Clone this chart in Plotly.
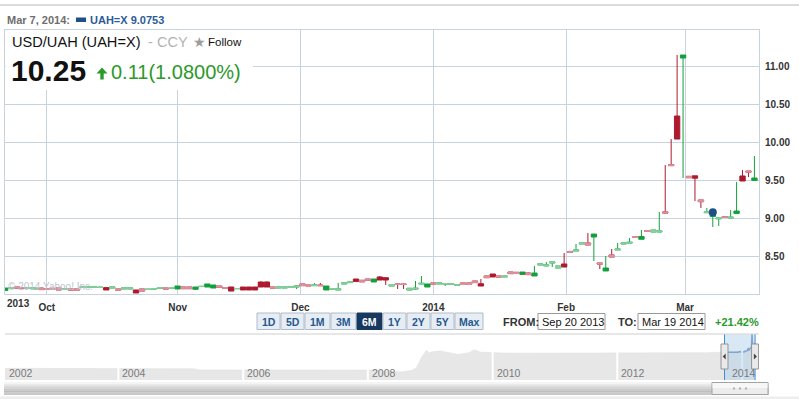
import numpy as np
import pandas as pd
import plotly.graph_objects as go

W, H = 799, 399

# ---------------- data ----------------
# FX trading days shown in the 6M window (no quote on 2013-10-14)
dates = [d.strftime('%Y-%m-%d') for d in pd.bdate_range('2013-09-20', '2014-03-18')
         if d.strftime('%Y-%m-%d') != '2013-10-14']

open_ = [8.047, 8.072, 8.092, 8.085, 8.079, 8.066, 8.079, 8.070, 8.075, 8.079,
         8.062, 8.066, 8.066, 8.090, 8.090, 8.088, 8.086, 8.084, 8.079, 8.066,
         8.066, 8.066, 8.053, 8.066, 8.060, 8.066, 8.077, 8.079, 8.077, 8.066,
         8.092, 8.092, 8.062, 8.098, 8.092, 8.079, 8.105, 8.082, 8.092, 8.070,
         8.092, 8.092, 8.092, 8.158, 8.158, 8.092, 8.079, 8.079, 8.090, 8.092,
         8.132, 8.118, 8.110, 8.118, 8.053, 8.062, 8.053, 8.132, 8.150, 8.197,
         8.180, 8.197, 8.158, 8.224, 8.215, 8.105, 8.132, 8.132, 8.053, 8.066,
         8.132, 8.092, 8.145, 8.132, 8.130, 8.130, 8.116, 8.145, 8.145, 8.171,
         8.135, 8.237, 8.263, 8.237, 8.225, 8.289, 8.285, 8.258, 8.276, 8.237,
         8.382, 8.370, 8.408, 8.342, 8.395, 8.560, 8.566, 8.658, 8.671, 8.750,
         8.408, 8.303, 8.513, 8.580, 8.658, 8.670, 8.755, 8.720, 8.834, 8.816,
         8.816, 9.080, 9.700, 10.342, 11.105, 9.548, 9.555, 9.237, 9.070, 9.020,
         8.990, 9.017, 9.000, 9.060, 9.553, 9.618, 9.495]
high = [8.079, 8.079, 8.092, 8.085, 8.085, 8.079, 8.079, 8.070, 8.075, 8.079,
        8.066, 8.066, 8.066, 8.092, 8.092, 8.090, 8.088, 8.084, 8.092, 8.066,
        8.079, 8.079, 8.053, 8.066, 8.062, 8.070, 8.081, 8.079, 8.086, 8.105,
        8.092, 8.092, 8.092, 8.100, 8.132, 8.118, 8.105, 8.082, 8.092, 8.072,
        8.092, 8.092, 8.092, 8.165, 8.165, 8.092, 8.092, 8.092, 8.092, 8.118,
        8.132, 8.118, 8.145, 8.145, 8.105, 8.070, 8.145, 8.150, 8.171, 8.197,
        8.180, 8.197, 8.197, 8.237, 8.215, 8.125, 8.135, 8.135, 8.079, 8.171,
        8.237, 8.132, 8.145, 8.145, 8.145, 8.134, 8.120, 8.145, 8.145, 8.171,
        8.197, 8.237, 8.263, 8.237, 8.235, 8.289, 8.285, 8.289, 8.282, 8.368,
        8.395, 8.421, 8.421, 8.368, 8.539, 8.566, 8.658, 8.671, 8.803, 8.789,
        8.408, 8.500, 8.592, 8.671, 8.671, 8.737, 8.755, 8.842, 8.834, 8.842,
        9.079, 9.697, 10.039, 11.145, 11.145, 9.553, 9.555, 9.237, 9.132, 9.080,
        9.000, 9.017, 9.105, 9.474, 9.632, 9.618, 9.816]
low = [8.047, 8.072, 8.079, 8.079, 8.079, 8.066, 8.058, 8.062, 8.066, 8.053,
       8.062, 8.053, 8.050, 8.090, 8.090, 8.088, 8.086, 8.053, 8.079, 8.053,
       8.066, 8.066, 8.013, 8.039, 8.060, 8.066, 8.077, 8.066, 8.075, 8.066,
       8.070, 8.070, 8.053, 8.098, 8.092, 8.079, 8.092, 8.077, 8.039, 8.070,
       8.053, 8.053, 8.053, 8.092, 8.092, 8.079, 8.079, 8.079, 8.090, 8.066,
       8.110, 8.108, 8.105, 8.105, 8.053, 8.062, 8.053, 8.132, 8.145, 8.165,
       8.160, 8.184, 8.158, 8.184, 8.118, 8.105, 8.066, 8.066, 8.053, 8.053,
       8.132, 8.092, 8.132, 8.132, 8.105, 8.130, 8.116, 8.125, 8.125, 8.150,
       8.105, 8.215, 8.224, 8.224, 8.225, 8.268, 8.270, 8.258, 8.250, 8.237,
       8.382, 8.368, 8.355, 8.342, 8.355, 8.539, 8.566, 8.658, 8.645, 8.434,
       8.329, 8.303, 8.487, 8.579, 8.658, 8.670, 8.745, 8.720, 8.826, 8.816,
       8.816, 9.066, 9.684, 10.039, 9.526, 9.530, 9.224, 9.132, 9.066, 8.882,
       8.895, 9.009, 9.000, 9.060, 9.487, 9.539, 9.495]
close = [8.079, 8.079, 8.079, 8.079, 8.085, 8.079, 8.058, 8.062, 8.066, 8.053,
         8.066, 8.053, 8.050, 8.092, 8.092, 8.090, 8.088, 8.053, 8.092, 8.053,
         8.079, 8.079, 8.013, 8.039, 8.062, 8.070, 8.081, 8.066, 8.083, 8.105,
         8.070, 8.070, 8.092, 8.100, 8.132, 8.118, 8.092, 8.077, 8.039, 8.072,
         8.053, 8.053, 8.053, 8.092, 8.092, 8.079, 8.092, 8.092, 8.092, 8.105,
         8.110, 8.108, 8.118, 8.110, 8.105, 8.070, 8.066, 8.145, 8.158, 8.165,
         8.160, 8.184, 8.197, 8.184, 8.184, 8.125, 8.125, 8.125, 8.075, 8.075,
         8.140, 8.132, 8.132, 8.145, 8.138, 8.134, 8.120, 8.125, 8.125, 8.150,
         8.105, 8.215, 8.224, 8.224, 8.235, 8.268, 8.270, 8.289, 8.255, 8.276,
         8.395, 8.380, 8.421, 8.368, 8.355, 8.550, 8.579, 8.671, 8.645, 8.789,
         8.395, 8.342, 8.487, 8.590, 8.671, 8.680, 8.745, 8.757, 8.826, 8.842,
         8.830, 9.066, 9.690, 10.039, 11.145, 9.530, 9.524, 9.215, 9.080, 9.0753,
         9.000, 9.009, 9.010, 9.092, 9.487, 9.605, 9.526]

marker_date = '2014-03-07'
marker_value = 9.0753

y_ticks = [8.50, 9.00, 9.50, 10.00, 10.50, 11.00]
month_starts = ['2013-10-01', '2013-11-01', '2013-12-01', '2014-01-01', '2014-02-01', '2014-03-01']
month_labels = ['Oct', 'Nov', 'Dec', '2014', 'Feb', 'Mar']

# long-term history for the navigator strip (before the 6M window)
nav_dates = ['2002-03-08', '2002-09-01', '2003-03-01', '2003-09-01', '2004-01-15', '2004-04-01',
             '2004-07-01', '2004-10-01', '2005-01-01', '2005-03-15', '2005-04-20', '2005-08-01',
             '2006-03-01', '2006-09-01', '2007-03-01', '2007-09-01', '2008-02-01', '2008-05-01',
             '2008-07-15', '2008-09-15', '2008-10-10', '2008-10-25', '2008-11-10', '2008-11-25',
             '2008-12-10', '2008-12-25', '2009-01-20', '2009-03-01', '2009-04-15', '2009-06-15',
             '2009-08-15', '2009-09-15', '2009-10-20', '2009-12-15', '2010-03-01', '2010-07-01',
             '2011-01-01', '2011-07-01', '2012-01-01', '2012-07-01', '2013-01-01', '2013-06-01',
             '2013-09-13']
nav_vals = [5.33, 5.33, 5.33, 5.33, 5.32, 5.31, 5.30, 5.28, 5.30, 5.25, 5.05, 5.05,
            5.05, 5.05, 5.05, 5.05, 5.02, 4.86, 4.70, 4.98, 5.40, 6.20, 7.20, 7.80,
            8.40, 8.00, 8.20, 8.30, 8.00, 7.70, 8.00, 8.50, 8.10, 8.00, 7.95, 7.92,
            7.96, 7.97, 7.99, 7.99, 7.99, 8.00, 8.10]
nav_years = [2004, 2006, 2008, 2010, 2012, 2014]

# ---------------- helpers ----------------
def px(x):
    return x / W

def py(y):
    return 1 - y / H

RED, PINK = '#ad1a2f', '#dd909d'
GREEN, LGREEN = '#13a03d', '#86cf9e'
GRID = '#c9d3dc'
FONT = 'Liberation Sans'

# category position of calendar month starts (interpolated over weekends)
dts = pd.to_datetime(dates)
def cal_pos(day):
    day = pd.Timestamp(day)
    k = int(np.searchsorted(dts.values, day.to_datetime64()))
    if dts[k] == day:
        return float(k)
    p, n = dts[k - 1], dts[k]
    return (k - 1) + (day - p) / (n - p)

tickpos = [cal_pos(m) for m in month_starts]

fig = go.Figure()

# full candles (dark bodies & wicks)
fig.add_trace(go.Candlestick(
    x=dates, open=open_, high=high, low=low, close=close,
    increasing=dict(line=dict(color=GREEN, width=1), fillcolor=GREEN),
    decreasing=dict(line=dict(color=RED, width=1), fillcolor=RED),
    whiskerwidth=0, showlegend=False, hoverinfo='x+y', xaxis='x', yaxis='y'))

# light bodies for small-range sessions
light = [i for i in range(len(dates)) if abs(close[i] - open_[i]) < 0.028]
fig.add_trace(go.Candlestick(
    x=[dates[i] for i in light],
    open=[open_[i] for i in light], close=[close[i] for i in light],
    high=[max(open_[i], close[i]) for i in light],
    low=[min(open_[i], close[i]) for i in light],
    increasing=dict(line=dict(color=LGREEN, width=1), fillcolor=LGREEN),
    decreasing=dict(line=dict(color=PINK, width=1), fillcolor=PINK),
    whiskerwidth=0, showlegend=False, hoverinfo='skip', xaxis='x', yaxis='y'))

fig.add_trace(go.Scatter(x=[marker_date], y=[marker_value], mode='markers',
                         marker=dict(color='#1d4f86', size=8), showlegend=False,
                         xaxis='x', yaxis='y'))

# navigator
fig.add_trace(go.Scatter(x=nav_dates + dates, y=nav_vals + close, mode='lines',
                         line=dict(color='#dedede', width=0.5), fill='tozeroy',
                         fillcolor='#e7e7e7', showlegend=False, hoverinfo='skip',
                         xaxis='x2', yaxis='y2'))
fig.add_trace(go.Scatter(x=dates, y=close, mode='lines', line=dict(color='#5d88b6', width=1.5),
                         showlegend=False, hoverinfo='skip', xaxis='x2', yaxis='y2'))

shapes = []
ann = []

# outer top rule
shapes.append(dict(type='line', xref='paper', yref='paper', x0=0, x1=1, y0=py(5), y1=py(5),
                   line=dict(color='#cfcfcf', width=1.5)))
# title box covering the grid
shapes.append(dict(type='rect', xref='paper', yref='paper', x0=px(5.6), x1=px(253), y0=py(90), y1=py(30.6),
                   fillcolor='white', line=dict(width=0), layer='above'))
# up arrow
ax = [96.5, 102, 107.5, 103.7, 103.7, 100.3, 100.3]
ay = [73.5, 67.5, 73.5, 73.5, 79.5, 79.5, 73.5]
path = 'M ' + ' L '.join(f'{px(a):.5f},{py(b):.5f}' for a, b in zip(ax, ay)) + ' Z'
shapes.append(dict(type='path', xref='paper', yref='paper', path=path,
                   fillcolor='#2a9a2a', line=dict(width=0), layer='above'))
# legend swatch in header
shapes.append(dict(type='rect', xref='paper', yref='paper', x0=px(76), x1=px(86), y0=py(22), y1=py(17.5),
                   fillcolor='#1f4f88', line=dict(width=0)))

# header texts
def text(s, x, y, size, color, bold=False, family=FONT, anchor='left'):
    ann.append(dict(text=s, xref='paper', yref='paper', x=px(x), y=py(y), xanchor=anchor,
                    yanchor='middle', showarrow=False,
                    font=dict(family=family, size=size, color=color, weight='bold' if bold else 'normal')))

text('Mar 7, 2014:', 5, 19.5, 11, '#6e6e6e', True)
text('UAH=X 9.0753', 88, 19.5, 11, '#2b5c97', True)
text('USD/UAH (UAH=X)', 10, 42, 14.6, '#111111')
text('- CCY', 146, 42, 14.6, '#b3b3b3')
text('★', 191, 41.5, 14, '#9d9d9d', family='DejaVu Sans')
text('Follow', 206, 42.5, 11.5, '#111111')
text('10.25', 9, 70, 30, '#111111', True)
text('0.11(1.0800%)', 109, 72, 20, '#2a9a2a')
text('© 2014 Yahoo! Inc.', 6, 286, 10, '#bcc5ce')
text('2013', 5, 303.5, 10, '#333333', True)

# range buttons
btn_labels = ['1D', '5D', '1M', '3M', '6M', '1Y', '2Y', '5Y', 'Max']
btn_left = [257, 281, 305, 331, 357, 383, 407, 431, 455]
btn_right = [280, 304, 330, 356, 382, 406, 430, 454, 483]
for lab, l, r in zip(btn_labels, btn_left, btn_right):
    sel = lab == '6M'
    shapes.append(dict(type='rect', xref='paper', yref='paper', x0=px(l), x1=px(r), y0=py(329.5), y1=py(313),
                       fillcolor='#17385f' if sel else '#e8edf3',
                       line=dict(color='#17385f' if sel else '#aebdcc', width=1)))
    ann.append(dict(text=lab, xref='paper', yref='paper', x=px((l + r) / 2), y=py(321.5),
                    xanchor='center', yanchor='middle', showarrow=False,
                    font=dict(family=FONT, size=10.5, color='white' if sel else '#245891', weight='bold')))

text('FROM:', 501, 321.5, 11, '#333333', True)
text('TO:', 616, 321.5, 11, '#333333', True)
text('+21.42%', 713, 321.5, 11, '#2a9a2a', True)
for s, l, r in [('Sep 20 2013', 538, 605), ('Mar 19 2014', 638, 705)]:
    shapes.append(dict(type='rect', xref='paper', yref='paper', x0=px(l), x1=px(r), y0=py(329.5), y1=py(313.5),
                       fillcolor='white', line=dict(color='#9a9a9a', width=1)))
    text(s, l + 2, 321.5, 11, '#111111')

# rule above navigator
shapes.append(dict(type='line', xref='paper', yref='paper', x0=px(5), x1=px(759), y0=py(334), y1=py(334),
                   line=dict(color='#cfcfcf', width=1)))

# navigator year separators + labels
for yr in nav_years:
    shapes.append(dict(type='line', xref='x2', yref='paper', x0=f'{yr}-01-01', x1=f'{yr}-01-01',
                       y0=py(381), y1=py(340), line=dict(color='white', width=2), layer='above'))
ann.append(dict(text='2002', xref='paper', yref='paper', x=px(7), y=py(372.5), xanchor='left', yanchor='middle',
                showarrow=False, font=dict(family=FONT, size=10.5, color='#7a7a7a')))
for yr in nav_years:
    ann.append(dict(text=str(yr), xref='x2', yref='paper', x=f'{yr}-01-01', y=py(372.5),
                    xanchor='center' if yr == 2014 else 'left', xshift=2,
                    yanchor='middle', showarrow=False, font=dict(family=FONT, size=10.5, color='#7a7a7a')))

# navigator selection
shapes.append(dict(type='rect', xref='x2', yref='paper', x0=dates[0], x1=dates[-1], y0=py(380), y1=py(334.5),
                   fillcolor='rgba(170,205,232,0.45)', line=dict(width=0), layer='above'))
for d in (dates[0], dates[-1]):
    shapes.append(dict(type='line', xref='x2', yref='paper', x0=d, x1=d, y0=py(380), y1=py(334.5),
                       line=dict(color='#3b8fe0', width=1), layer='above'))
    shapes.append(dict(type='rect', xref='x2', yref='paper', xsizemode='pixel', xanchor=d, x0=-3.5, x1=3.5,
                       y0=py(369), y1=py(344), fillcolor='#e9e9e9', line=dict(color='#959595', width=1),
                       layer='above'))
shapes.append(dict(type='path', xref='x2', yref='paper', xsizemode='pixel', xanchor=dates[0],
                   ysizemode='pixel', yanchor=py(356.5), path='M 1.2,-3 L -1.8,0 L 1.2,3 Z',
                   fillcolor='#444', line=dict(width=0), layer='above'))
shapes.append(dict(type='path', xref='x2', yref='paper', xsizemode='pixel', xanchor=dates[-1],
                   ysizemode='pixel', yanchor=py(356.5), path='M -1.2,-3 L 1.8,0 L -1.2,3 Z',
                   fillcolor='#444', line=dict(width=0), layer='above'))

# scrollbar
stripes = ['#f4f4f4', '#e4e4e4', '#d4d4d4', '#c6c6c6', '#bdbdbd', '#c9c9c9']
for k, c in enumerate(stripes):
    y0 = 382 + k * 13 / len(stripes)
    shapes.append(dict(type='rect', xref='paper', yref='paper', x0=px(4), x1=px(769),
                       y0=py(y0 + 13 / len(stripes)), y1=py(y0), fillcolor=c, line=dict(width=0)))
shapes.append(dict(type='rect', xref='paper', yref='paper', x0=px(712), x1=px(768), y0=py(394.5), y1=py(382.5),
                   fillcolor='#ececec', line=dict(color='#a3a3a3', width=1)))
shapes.append(dict(type='rect', xref='paper', yref='paper', x0=px(712.5), x1=px(767.5), y0=py(388), y1=py(383),
                   fillcolor='#f7f7f7', line=dict(width=0)))
for gx in (734, 740, 746):
    shapes.append(dict(type='circle', xref='paper', yref='paper', x0=px(gx - 1.2), x1=px(gx + 1.2),
                       y0=py(389.7), y1=py(387.3), fillcolor='#b5b5b5', line=dict(width=0)))
shapes.append(dict(type='rect', xref='paper', yref='paper', x0=0, x1=1, y0=0, y1=py(396.5),
                   fillcolor='#eeeeee', line=dict(width=0)))

tickfont = dict(family=FONT, size=10, color='#333333', weight='bold')
fig.update_layout(
    width=W, height=H, margin=dict(l=0, r=0, t=0, b=0),
    paper_bgcolor='white', plot_bgcolor='white', showlegend=False,
    boxgap=0.1, boxgroupgap=0,
    xaxis=dict(type='category', domain=[px(5), px(759)], range=[-0.03, 126.77],
               rangeslider=dict(visible=False), tickmode='array', tickvals=tickpos, ticktext=month_labels,
               showgrid=True, gridcolor=GRID, gridwidth=1, showline=True, linecolor=GRID, mirror=True,
               ticks='', ticklabelstandoff=4, tickfont=tickfont, zeroline=False, anchor='y'),
    yaxis=dict(domain=[py(294), py(30)], range=[8.0, 11.474], side='right', tickmode='array',
               tickvals=y_ticks, ticktext=[f'{v:.2f}' for v in y_ticks],
               showgrid=True, gridcolor=GRID, gridwidth=1, showline=True, linecolor=GRID, mirror=True,
               ticks='', ticklabelstandoff=3, tickfont=tickfont, zeroline=False, anchor='x'),
    xaxis2=dict(type='date', domain=[px(5), px(759)], range=['2002-03-08', '2014-04-10'],
                anchor='y2', visible=False),
    yaxis2=dict(domain=[py(380), py(334)], range=[3.33, 11.2], visible=False, anchor='x2'),
    shapes=shapes, annotations=ann,
)

fig.write_html('out.html', config={'displayModeBar': False},
               post_script="document.body.style.margin='0';document.body.style.overflow='hidden';")
